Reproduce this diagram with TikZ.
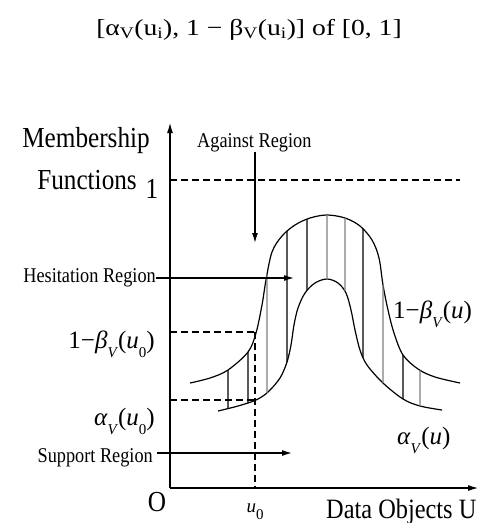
\documentclass[tikz,border=0pt]{standalone}
\usepackage{fontspec}
\setmainfont{Liberation Serif}
\newfontfamily\condfont[FakeStretch=0.87]{Liberation Serif}
\newfontfamily\widefont[FakeStretch=1.2]{Liberation Serif}
\usetikzlibrary{arrows.meta,intersections}
\newcommand\lowsub[1]{\raisebox{-0.38em}{\fontsize{15}{15}\selectfont #1}}
\newcommand\mbeta{\textit{β}\lowsub{\textit{V}}}
\newcommand\malpha{\textit{α}\lowsub{\textit{V}}}
\newcommand\muz{\textit{u}\lowsub{0}}
\tikzset{
  axisline/.style={line width=1.8pt, -{Latex[length=11pt,width=6pt]}},
  pointer/.style={line width=1.3pt, -{Latex[length=10pt,width=6pt]}},
  guide/.style={line width=1.3pt, dash pattern=on 7pt off 4pt},
  curve/.style={line width=1.2pt},
  hatch/.style={line width=1.1pt},
  lbl/.style={inner sep=0pt, font=\condfont\fontsize{21}{21}\selectfont},
  big/.style={inner sep=0pt, font=\condfont\fontsize{29}{29}\selectfont},
  mlbl/.style={inner sep=0pt, font=\fontsize{25}{25}\selectfont},
}
\begin{document}
\begin{tikzpicture}[x=1pt,y=-1pt]
\useasboundingbox (0,0) rectangle (484,523);

% title formula
\node[inner sep=0pt, anchor=base, font=\widefont\fontsize{23}{23}\selectfont] (title) at (249,35)
  {[α\textsubscript{V}(u\textsubscript{i}), 1 − β\textsubscript{V}(u\textsubscript{i})] of [0, 1]};

% axes
\coordinate (O) at (170,488);
\coordinate (ytop) at (170,122);
\coordinate (xend) at (479,488);
\draw[axisline] (O) -- (ytop);
\draw[axisline] (O) -- (xend);

% axis labels
\node[big, anchor=base east] (memb) at (150,147) {Membership};
\node[big, anchor=base east] (func) at (137,189) {Functions};
\node[big, anchor=base] (one) at (152,198) {1};
\node[big, anchor=base] (orig) at (157,511) {O};
\node[big, anchor=base west, font=\condfont\fontsize{28}{28}\selectfont] (dataobj) at (326,518) {Data Objects U};
\node[inner sep=0pt, anchor=base, font=\fontsize{19}{19}\selectfont] (u0lbl) at (255,512) {\muz};

% level 1 dashed
\coordinate (oneL) at (170,180);
\coordinate (oneR) at (460,180);
\draw[guide] (oneL) -- (oneR);

% curves
\draw[curve, name path=up] plot[smooth, tension=0.55] coordinates {
 (190,383) (210,378) (228,370) (248,352) (256,333) (262,305) (266,280) (272,252)
 (282,236) (295,225) (310,218) (327,215) (345,218) (360,226) (372,240) (379,258)
 (383,285) (388,310) (394,333) (403,355) (418,369) (435,377) (460,383)};
\draw[curve, name path=lo] plot[smooth, tension=0.55] coordinates {
 (218,411) (238,406) (256,400) (268,392) (280,378) (287,362) (291,345) (294,325)
 (298,308) (305,293) (315,283) (327,279) (338,283) (346,293) (351,310) (355,330)
 (360,350) (367,365) (383,383) (403,399) (420,406) (442,410)};

% hatching
\foreach \x/\c in {228/black,248/black,267/gray,287/black,307/black,327/gray,345/gray,363/black,383/gray,403/black,420/gray} {
  \path[name path=vl] (\x,150) -- (\x,480);
  \path[name intersections={of=vl and up, by=ha}];
  \path[name intersections={of=vl and lo, by=hb}];
  \draw[hatch, draw=\c] (ha) -- (hb);
}

% u0 guides
\coordinate (bL) at (170,332);
\coordinate (bP) at (255,332);
\coordinate (aL) at (170,400);
\coordinate (aP) at (255,400);
\coordinate (u0ax) at (255,488);
\draw[guide] (bL) -- (bP);
\draw[guide] (aL) -- (aP);
\draw[guide] (bP) -- (u0ax);

% left math labels
\node[mlbl, anchor=base east] (bu0) at (155,348) {1−\mbeta(\muz)};
\node[mlbl, anchor=base east] (au0) at (155,425) {\malpha(\muz)};
% right curve labels
\node[mlbl, anchor=base west] (bu) at (393,318) {1−\mbeta(\textit{u})};
\node[mlbl, anchor=base west] (au) at (397,444) {\malpha(\textit{u})};

% regions
\node[lbl, anchor=base west] (against) at (197,147) {Against Region};
\coordinate (againstTip) at (255,243);
\draw[pointer] (against.south -| againstTip) -- (againstTip);

\node[lbl, anchor=base east] (hes) at (156,282) {Hesitation Region};
\coordinate (hesTip) at (294,278);
\draw[pointer] (hes.east |- hesTip) -- (hesTip);

\node[lbl, anchor=base east] (supp) at (153,462) {Support Region};
\coordinate (suppTip) at (292,453);
\draw[pointer] ([xshift=4pt]supp.east |- suppTip) -- (suppTip);
\end{tikzpicture}
\end{document}
